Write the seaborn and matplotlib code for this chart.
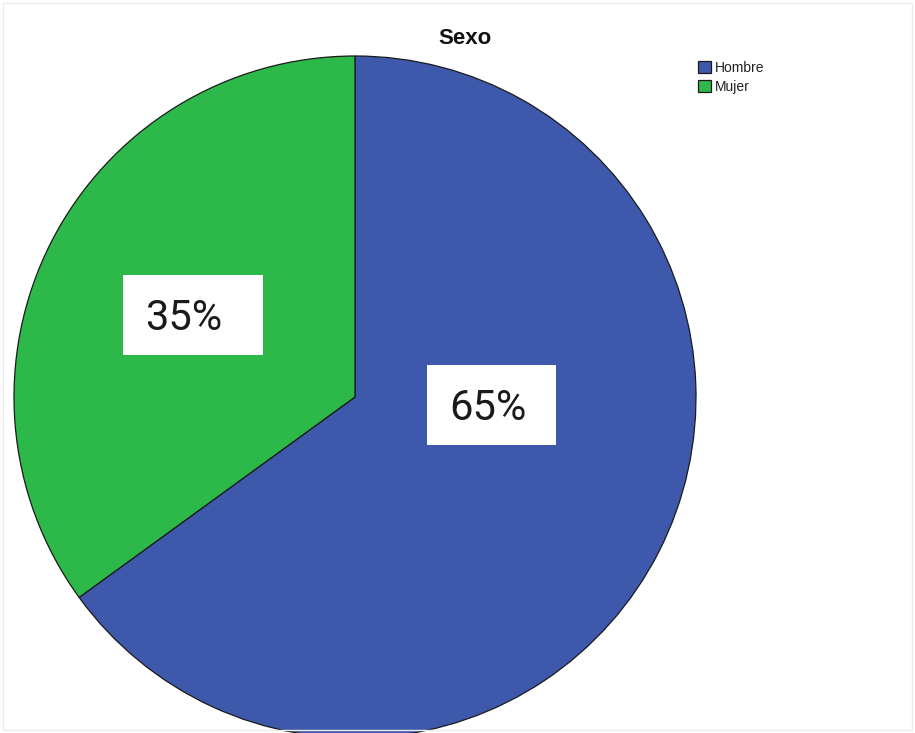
import matplotlib.pyplot as plt
from matplotlib.patches import Rectangle
import seaborn as sns

# data
categories = ['Hombre', 'Mujer']
counts = [65, 35]
colors = ['#3E58AC', '#2DB84A']

# label layout (pixel coords of the image, y from top)
label_boxes = [(427, 365, 129, 80), (123, 275, 140, 80)]
label_text = [(488, 408), (184, 318)]

W, H = 915, 733

sns.set_style('white')
plt.rcParams['font.family'] = ['Liberation Sans', 'DejaVu Sans']

fig = plt.figure(figsize=(W / 100, H / 100), dpi=100)
ax = fig.add_axes([0, 0, 1, 1])
ax.set_xlim(0, W)
ax.set_ylim(0, H)
ax.set_aspect('equal')
ax.axis('off')

wedges, _ = ax.pie(counts, colors=colors, startangle=90, counterclock=False,
                   center=(355, H - 397), radius=341,
                   wedgeprops=dict(edgecolor='#1a1a1a', linewidth=0.9))
ax.set_xlim(0, W)
ax.set_ylim(0, H)

total = sum(counts)
for v, (bx, by, bw, bh), (tx, ty) in zip(counts, label_boxes, label_text):
    ax.add_patch(Rectangle((bx, H - by - bh), bw, bh, facecolor='white',
                           edgecolor='none', zorder=3))
    ax.text(tx, H - ty, f'{v / total * 100:.0f}%', ha='center', va='center',
            fontsize=30, family='Roboto', color='#1a1a1a', zorder=4)

ax.text(465, H - 38, 'Sexo', ha='center', va='center', fontsize=16,
        fontweight='bold', color='#111111')

leg = ax.legend(wedges, categories, loc='upper left',
                bbox_to_anchor=(698 / W, 1 - 61 / H), bbox_transform=fig.transFigure,
                frameon=False, fontsize=10, borderpad=0, borderaxespad=0,
                handlelength=0.95, handleheight=0.95, handletextpad=0.25,
                labelspacing=0.35)
for t in leg.get_texts():
    t.set_color('#222222')

fig.patches.append(Rectangle((3, 3), W - 6, H - 6, transform=None,
                             fill=False, edgecolor='#ececec', linewidth=1))

fig.savefig('out.png', dpi=100)
